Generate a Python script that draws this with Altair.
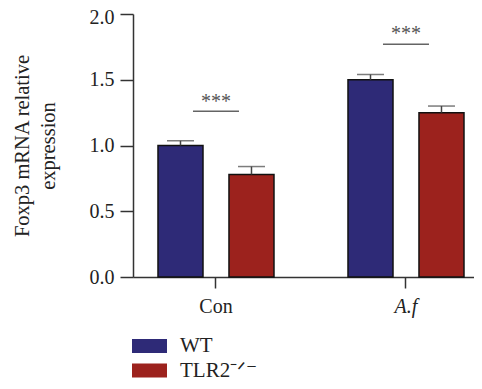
import altair as alt
import pandas as pd

# ---- data ----
groups = ["Con", "A.f"]
genotypes = ["WT", "TLR2⁻ᐟ⁻"]
bar_group = ["Con", "Con", "A.f", "A.f"]
bar_geno = ["WT", "TLR2⁻ᐟ⁻", "WT", "TLR2⁻ᐟ⁻"]
bar_mean = [1.00, 0.78, 1.50, 1.25]
bar_err = [0.036, 0.06, 0.04, 0.05]
sig_group = ["Con", "A.f"]
sig_line = [1.26, 1.77]
sig_star = [1.285, 1.80]
sig_text = ["***", "***"]
colors = ["#2E2A77", "#9C221D"]
y_ticks = [0, 0.5, 1.0, 1.5, 2.0]

df = pd.DataFrame({
    "group": bar_group,
    "geno": bar_geno,
    "mean": bar_mean,
    "upper": [m + e for m, e in zip(bar_mean, bar_err)],
})
sig = pd.DataFrame({"group": sig_group, "line": sig_line, "star": sig_star, "txt": sig_text})

FONT = "Liberation Serif"

xscale = alt.Scale(domain=groups, paddingInner=0.3895, paddingOuter=0.0921, align=0.714)
xaxis = alt.Axis(
    labelAngle=0, tickSize=11, labelPadding=8, title=None,
    labelFontStyle={"condition": {"test": "datum.value === 'A.f'", "value": "italic"}, "value": "normal"},
)
yscale = alt.Scale(domain=[0, 2], nice=False, zero=True)
yaxis = alt.Axis(
    values=y_ticks, format=".1f", tickSize=13, labelPadding=6,
    labelOffset={"condition": {"test": "datum.value >= 2", "value": 3}, "value": 0},
    title=["Foxp3 mRNA relative", "expression"], titlePadding=31, titleLineHeight=26,
)

X = alt.X("group:N", sort=groups, scale=xscale, axis=xaxis)
XO = alt.XOffset("geno:N", sort=genotypes, scale=alt.Scale(paddingInner=0.366, paddingOuter=0))

base = alt.Chart(df).encode(x=X, xOffset=XO)

bars = base.mark_bar(stroke="#111", strokeWidth=1.5).encode(
    y=alt.Y("mean:Q", scale=yscale, axis=yaxis),
    color=alt.Color(
        "geno:N", sort=genotypes,
        scale=alt.Scale(domain=genotypes, range=colors),
        legend=alt.Legend(
            orient="none", legendX=2.5, legendY=318, title=None, direction="vertical",
            symbolType="M-1.25,-0.5H1.25V0.5H-1.25Z", symbolSize=784, symbolStrokeWidth=0,
            symbolOpacity=1, labelFont=FONT, labelFontSize=21, labelColor="#222",
            labelOffset=16.5, rowPadding=0.5, padding=0,
        ),
    ),
)

err = base.mark_rule(color="#444", strokeWidth=1.5).encode(y="mean:Q", y2="upper:Q")
caps = base.mark_tick(color="#444", thickness=1.5, size=27).encode(y="upper:Q")

sig_base = alt.Chart(sig).encode(x=alt.X("group:N", sort=groups))
sig_lines = sig_base.mark_tick(color="#222", thickness=1.5, size=46).encode(y="line:Q")
sig_stars = sig_base.mark_text(font=FONT, fontSize=20, color="#555", baseline="alphabetic").encode(
    y="star:Q", text="txt:N"
)

chart = (
    alt.layer(bars, err, caps, sig_lines, sig_stars)
    .properties(
        width=341, height=263,
        autosize=alt.AutoSizeParams(type="none"),
        padding={"left": 125, "top": 6, "right": 0, "bottom": 104},
    )
    .configure_view(stroke=None)
    .configure_axis(
        labelFont=FONT, labelFontSize=20, labelColor="#222",
        titleFont=FONT, titleFontSize=20.5, titleFontWeight="normal", titleColor="#222",
        domainColor="#333", domainWidth=1.5, tickColor="#333", tickWidth=1.5, grid=False,
    )
)

chart.save("out.html", embed_options={"renderer": "svg", "actions": False})
